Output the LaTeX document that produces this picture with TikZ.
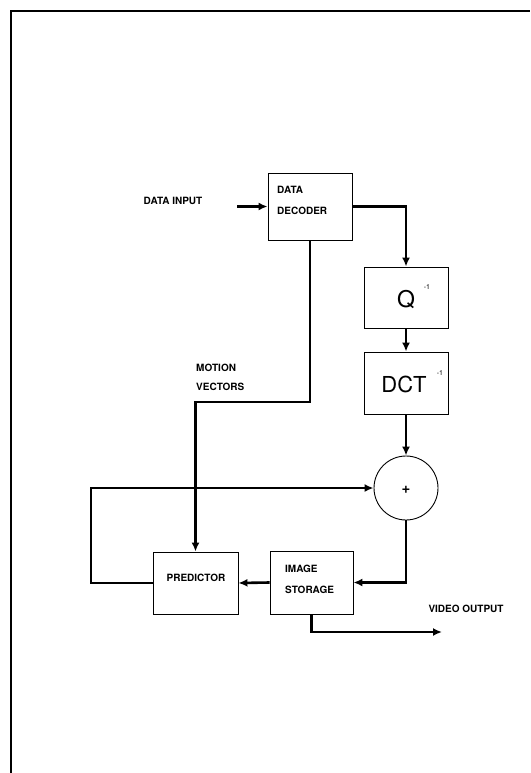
\documentclass[tikz,border=0pt]{standalone}
\usepackage{fontspec}
\setmainfont{TeX Gyre Heros}
\usetikzlibrary{positioning,arrows.meta}
\tikzset{
	bloc/.style={draw, line width=0.9pt, minimum width=84pt, minimum height=62pt, inner sep=0pt},
	etiq/.style={font=\bfseries\fontsize{10}{10}\selectfont, inner sep=0pt},
	flux/.style={line width=2.6pt, -{Latex[length=9pt,width=8pt]}},
}
\begin{document}
\begin{tikzpicture}[x=1pt, y=-1pt]
		\useasboundingbox (0,0) rectangle (530,773);
		
		% marc
		\draw[line width=2pt] (11,773) -- (11,11) -- (530,11);
		
		% blocs
		\node[bloc, minimum height=67pt] (deco) at (310,206.5) {};
		\node[bloc, minimum height=61pt] (q) at (406,297.5) {};
		\node[bloc] (dct) at (406,383) {};
		\node[draw, line width=0.9pt, circle, minimum size=64pt, inner sep=0pt] (som) at (406,488) {};
		\node[bloc, minimum width=85pt] (pred) at (195.5,583) {};
		\node[bloc, minimum width=83pt, minimum height=63pt] (stor) at (311.5,582.5) {};
		
		% textos
		\node[etiq] (din-t) at (173,201) {DATA INPUT};
		\node[etiq, anchor=west] (deco-t1) at (277,190) {DATA};
		\node[etiq, anchor=west] (deco-t2) at (277,211) {DECODER};
		\node[font=\fontsize{23}{24}\selectfont, inner sep=0pt] (q-t) at (406,300) {Q};
		\node[font=\fontsize{7}{7}\selectfont, inner sep=0pt] (q-s) at (427,287) {-1};
		\node[font=\fontsize{22}{24}\selectfont, inner sep=0pt] (dct-t) at (404,384) {DCT};
		\node[font=\fontsize{7}{7}\selectfont, inner sep=0pt] (dct-s) at (440,373) {-1};
		\node[font=\bfseries\fontsize{15}{15}\selectfont, inner sep=0pt] (som-t) at (406,490) {+};
		\node[etiq, anchor=west] (mv-t1) at (196,368) {MOTION};
		\node[etiq, anchor=west] (mv-t2) at (196,387) {VECTORS};
		\node[etiq] (pred-t) at (196,578) {PREDICTOR};
		\node[etiq, anchor=west] (stor-t1) at (285,569) {IMAGE};
		\node[etiq, anchor=west] (stor-t2) at (285,590) {STORAGE};
		\node[etiq] (vout-t) at (466,609) {VIDEO OUTPUT};
		
		% punts lliures
		\coordinate (din) at (237,206.5);
		\coordinate (mv) at (195.5,402);
		\coordinate (ret) at (91,488);
		\coordinate (vout) at (442,632);
		
		% connexions
		\draw[flux] (din) -- (deco.west);
		\draw[flux] (deco.east) -| (q.north);
		\draw[flux] (q.south) -- (dct.north);
		\draw[flux] (dct.south) -- (som.north);
		\draw[flux] (som.south) |- (stor.east);
		\draw[flux] (stor.west) -- (pred.east);
		\draw[flux] (pred.west) -| (ret) -- (som.west);
		\draw[flux] (deco.south) |- (mv) -- (pred.north);
		\draw[flux] (stor.south) |- (vout);
	\end{tikzpicture}
\end{document}
